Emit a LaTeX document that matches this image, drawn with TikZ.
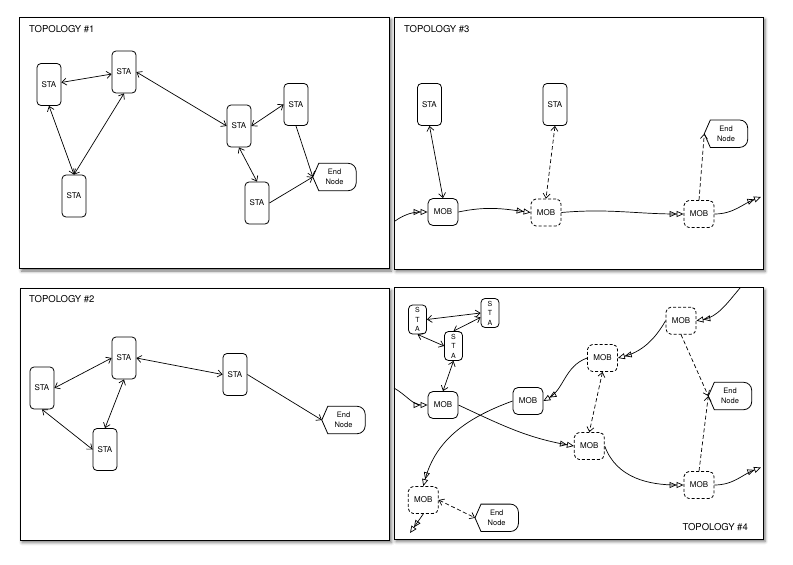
\documentclass[tikz,border=0pt]{standalone}
\usepackage{fontspec}
\setmainfont{TeX Gyre Heros}
\usetikzlibrary{arrows.meta,shadows.blur}

\newcommand{\boxfont}{\fontsize{8}{9}\selectfont}
\newcommand{\smallboxfont}{\fontsize{7}{9.5}\selectfont}
\newcommand{\sinkfont}{\fontsize{7.5}{10}\selectfont}
\newcommand{\topofont}{\fontsize{9.5}{11}\selectfont}

\tikzset{
  panel/.style={draw, fill=white, line width=0.8pt, blur shadow={shadow xshift=2pt, shadow yshift=-2.5pt, shadow blur radius=3pt, shadow opacity=55}},
  sta/.style={draw, line width=0.8pt, rounded corners=4pt, minimum width=24pt, minimum height=42pt, inner sep=0pt, font=\boxfont},
  ssta/.style={sta, minimum width=18pt, minimum height=29pt, align=center, font=\smallboxfont},
  mob/.style={draw, line width=0.8pt, rounded corners=5pt, minimum width=30pt, minimum height=27pt, inner sep=0pt, font=\boxfont},
  dmob/.style={mob, dash pattern=on 3pt off 2pt},
  endnode/.style={minimum width=43pt, minimum height=27pt, inner sep=0pt, align=center, font=\sinkfont},
  toplabel/.style={font=\topofont, inner sep=0pt},
  link/.style={line width=0.7pt, >={Straight Barb[length=4.5pt,width=7pt]}},
  dlink/.style={link, dash pattern=on 4pt off 2.5pt},
  flow/.style={line width=0.7pt, -{Triangle[open,length=7pt,width=6pt]Triangle[open,length=7pt,width=6pt]}}
}

\begin{document}
\begin{tikzpicture}[x=1pt, y=-1pt]
\useasboundingbox (0,0) rectangle (793,565);

\draw[panel] (19.5,17) rectangle (389.5,268.5);
\draw[panel] (394,17) rectangle (763,269);
\draw[panel] (20,288) rectangle (389.5,540);
\draw[panel] (394,287.5) rectangle (763,539);

\node[toplabel, anchor=west] (t1) at (29,29) {TOPOLOGY \#1};
\node[toplabel, anchor=west] (t2) at (29,299.5) {TOPOLOGY \#2};
\node[toplabel, anchor=west] (t3) at (404,29.5) {TOPOLOGY \#3};
\node[toplabel, anchor=east] (t4) at (748,527) {TOPOLOGY \#4};

% topology 1
\node[sta] (a1) at (49,84.5) {STA};
\node[sta] (b1) at (124,72) {STA};
\node[sta] (c1) at (74,196) {STA};
\node[sta] (d1) at (239,126) {STA};
\node[sta] (f1) at (296,104.5) {STA};
\node[sta] (g1) at (257,203) {STA};
\node[endnode] (e1) at (334.5,177) {End\\Node};
\draw[link, <->] (a1) -- (b1);
\draw[link, <->] (b1.east) -- (d1.west);
\draw[link, <->] (a1.south) -- (c1.north);
\draw[link, <->] (b1.south) -- (c1.north);
\draw[link, <->] (d1.east) -- (f1.west);
\draw[link, <->] (d1.south) -- (g1.north);
\draw[link, ->] (f1.south) -- (e1.west);
\draw[link, ->] (g1.east) -- (e1.west);

% topology 2
\node[sta] (a2) at (42,388) {STA};
\node[sta] (b2) at (124,358) {STA};
\node[sta] (c2) at (105,449.5) {STA};
\node[sta] (d2) at (235,374.5) {STA};
\node[endnode] (e2) at (343.5,420) {End\\Node};
\draw[link, <->] (a2.east) -- (b2.west);
\draw[link, <->] (b2.east) -- (d2.west);
\draw[link, <->] (b2.south) -- (c2.north);
\draw[link, <->] (a2.south) -- (c2.west);
\draw[link, ->] (d2.east) -- (e2.west);

% topology 3
\node[sta] (sa3) at (429.5,104.5) {STA};
\node[sta] (sb3) at (555,104.5) {STA};
\node[mob] (ma3) at (443,212) {MOB};
\node[dmob] (mb3) at (546,212.5) {MOB};
\node[dmob] (mc3) at (699,214) {MOB};
\node[endnode] (e3) at (726,133.7) {End\\Node};
\coordinate (in3) at (395,221);
\coordinate (out3) at (761,197);
\draw[link, <->] (sa3.south) -- (ma3.north);
\draw[dlink, <->] (sb3.south) -- (mb3.north);
\draw[dlink, ->] (mc3.north) -- (e3.west);
\draw[flow] (in3) to[out=35, in=180] (ma3.west);
\draw[flow] (ma3.east) to[out=12, in=172] (mb3.west);
\draw[flow] (mb3.east) to[out=5, in=180] (mc3.west);
\draw[flow] (mc3.east) to[out=0, in=200] (out3);

% topology 4
\node[ssta] (s1) at (417.5,319.5) {S\\T\\A};
\node[ssta] (s2) at (490,313) {S\\T\\A};
\node[ssta] (s3) at (453.5,346) {S\\T\\A};
\node[mob] (m1) at (443,405) {MOB};
\node[mob] (m2) at (528,401) {MOB};
\node[dmob] (m3) at (602.5,358) {MOB};
\node[dmob] (m4) at (681,320.7) {MOB};
\node[dmob] (m5) at (589.3,446) {MOB};
\node[dmob] (m6) at (699,485) {MOB};
\node[dmob] (m7) at (423.3,500) {MOB};
\node[endnode] (e4a) at (730,396) {End\\Node};
\node[endnode] (e4b) at (496.7,517.8) {End\\Node};
\coordinate (in4a) at (394,388);
\coordinate (in4b) at (740,288);
\coordinate (out4a) at (761,467.5);
\coordinate (out4b) at (410,533);
\draw[link, <->] (s1.east) -- (s2.west);
\draw[link, <->] (s1.south) -- (s3.west);
\draw[link, <->] (s2.205) -- (s3.north);
\draw[link, <->] (s3.south) -- (m1.north);
\draw[dlink, <->] (m3.south) -- (m5.north);
\draw[dlink, <->] (m7.east) -- (e4b.west);
\draw[dlink, ->] (m4.south) -- (e4a.west);
\draw[dlink, ->] (m6.north) -- (e4a.west);
\draw[flow] (in4a) to[out=-30, in=180] (m1.west);
\draw[flow] (m1.east) to[out=-25, in=170] (m5.west);
\draw[flow] (m5.east) to[out=-70, in=180] (m6.west);
\draw[flow] (m6.east) to[out=0, in=200] (out4a);
\draw[flow] (in4b) to[out=230, in=10] (m4.east);
\draw[flow] (m4.west) to[out=240, in=15] (m3.east);
\draw[flow] (m3.west) to[out=200, in=30] (m2.east);
\draw[flow] (m2.west) to[out=200, in=75] (m7.north);
\draw[flow] (m7.south) -- (out4b);

\foreach \e in {e1,e2,e3,e4a,e4b}
  \draw[line width=0.8pt] (\e.west) -- ([xshift=6pt]\e.north west)
    -- ([xshift=-8pt]\e.north east) .. controls ([xshift=-3.6pt]\e.north east) and ([yshift=-3.6pt]\e.north east) .. ([yshift=-8pt]\e.north east)
    -- ([yshift=8pt]\e.south east) .. controls ([yshift=3.6pt]\e.south east) and ([xshift=-3.6pt]\e.south east) .. ([xshift=-8pt]\e.south east)
    -- ([xshift=6pt]\e.south west) -- cycle;
\end{tikzpicture}
\end{document}
